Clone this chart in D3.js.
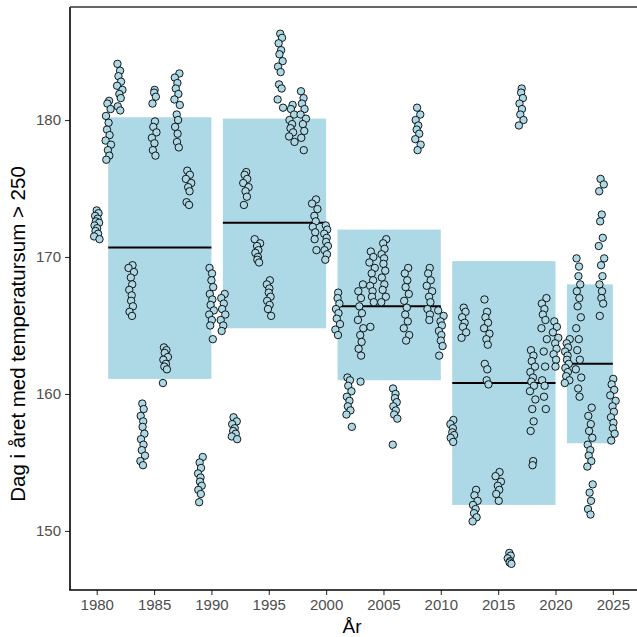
<!DOCTYPE html>
<html>
<head>
<meta charset="utf-8">
<script src="https://cdn.jsdelivr.net/npm/d3@7/dist/d3.min.js"></script>
<style>
body { margin: 0; background: #fff; }
text { font-family: "Liberation Sans", Arial, Helvetica, sans-serif; }
</style>
</head>
<body>
<svg id="chart" width="637" height="637"></svg>
<script>

// one row of values per year
var years = [1980, 1981, 1982, 1983, 1984, 1985, 1986, 1987, 1988, 1989,
    1990, 1991, 1992, 1993, 1994, 1995, 1996, 1997, 1998, 1999,
    2000, 2001, 2002, 2003, 2004, 2005, 2006, 2007, 2008, 2009,
    2010, 2011, 2012, 2013, 2014, 2015, 2016, 2017, 2018, 2019,
    2020, 2021, 2022, 2023, 2024, 2025];

var dayValues = [
    [173.4, 173.2, 173.0, 172.8, 172.6, 172.5, 172.3, 172.1, 171.9, 171.7, 171.5, 171.3],
    [181.4, 181.2, 180.8, 180.3, 179.8, 179.3, 178.9, 178.5, 178.2, 177.8, 177.4, 177.1],
    [184.1, 183.6, 183.2, 182.8, 182.5, 182.2, 181.9, 181.6, 181.0, 180.7],
    [169.4, 169.2, 168.9, 168.5, 168.0, 167.6, 167.2, 166.8, 166.4, 166.0, 165.7],
    [159.3, 158.9, 158.4, 158.0, 157.6, 157.1, 156.7, 156.3, 155.9, 155.5, 155.1, 154.8],
    [182.2, 182.0, 181.7, 181.2, 179.9, 179.5, 179.1, 178.7, 178.3, 177.8, 177.4],
    [163.4, 163.2, 163.0, 162.7, 162.5, 162.2, 162.0, 161.8, 160.8],
    [183.4, 183.1, 182.7, 182.3, 181.9, 181.5, 181.1, 180.4, 180.0, 179.5, 179.0, 178.4, 178.0],
    [176.3, 176.0, 175.7, 175.4, 175.1, 174.8, 174.0, 173.8],
    [155.4, 155.0, 154.6, 154.2, 153.9, 153.6, 153.3, 153.0, 152.7, 152.1],
    [169.2, 168.8, 168.3, 167.8, 167.3, 166.9, 166.5, 166.1, 165.8, 165.4, 165.0, 164.0],
    [167.3, 167.0, 166.6, 166.2, 165.8, 165.4, 165.0, 164.6],
    [158.3, 158.0, 157.8, 157.5, 157.3, 157.1, 156.9, 156.7],
    [176.2, 176.0, 175.7, 175.4, 175.1, 174.8, 174.4, 173.8],
    [171.3, 171.0, 170.8, 170.5, 170.3, 170.0, 169.8, 169.6],
    [168.3, 168.0, 167.7, 167.4, 167.1, 166.8, 166.5, 166.2, 165.7],
    [186.3, 186.0, 185.6, 185.1, 184.8, 184.3, 183.9, 183.5, 182.6, 182.3, 181.5, 180.9],
    [181.1, 180.8, 180.4, 180.0, 179.7, 179.4, 179.1, 178.8, 178.4],
    [182.1, 181.6, 181.2, 180.8, 180.4, 180.1, 179.7, 179.2, 178.7, 177.8],
    [174.2, 173.9, 173.5, 173.0, 172.6, 172.2, 171.8, 171.3, 170.5],
    [172.3, 172.0, 171.7, 171.4, 171.1, 170.8, 170.5, 170.2, 169.8],
    [167.4, 167.0, 166.6, 166.2, 165.9, 165.5, 165.1, 164.7, 164.3],
    [161.2, 161.0, 160.6, 160.2, 159.8, 159.5, 159.1, 158.8, 158.5, 157.6],
    [168.0, 167.5, 167.0, 166.4, 165.9, 165.4, 164.8, 164.3, 163.8, 163.3, 162.8, 160.9],
    [170.4, 170.0, 169.6, 169.2, 168.8, 168.3, 167.9, 167.5, 167.1, 166.7, 164.9],
    [171.3, 171.0, 170.6, 170.2, 169.9, 169.5, 169.0, 168.5, 168.0, 167.6, 167.1, 166.7],
    [160.4, 160.0, 159.7, 159.4, 159.1, 158.8, 158.5, 158.2, 156.3],
    [169.2, 168.8, 168.3, 167.8, 167.3, 166.8, 166.3, 165.8, 165.3, 164.8, 164.3, 163.9],
    [180.9, 180.4, 180.0, 179.6, 179.3, 179.0, 178.6, 178.2, 177.8],
    [169.2, 168.8, 168.3, 167.9, 167.5, 167.1, 166.7, 166.2, 165.8, 165.4],
    [166.1, 165.7, 165.3, 165.0, 164.6, 164.3, 163.9, 163.5, 162.8],
    [158.1, 157.8, 157.5, 157.2, 157.0, 156.8, 156.5],
    [166.3, 166.0, 165.6, 165.2, 164.9, 164.5, 164.1],
    [153.0, 152.6, 152.2, 151.9, 151.6, 151.3, 151.0, 150.7],
    [166.9, 166.0, 165.6, 165.2, 164.8, 164.4, 164.0, 163.6, 162.2, 161.8, 161.0, 160.7],
    [154.3, 154.0, 153.6, 153.3, 153.0, 152.7, 152.2],
    [148.4, 148.2, 148.0, 147.8, 147.7, 147.6],
    [182.3, 182.0, 181.6, 181.2, 180.8, 180.4, 180.0, 179.6],
    [163.2, 162.8, 162.4, 162.0, 161.6, 161.2, 160.9, 160.6, 160.2, 159.6, 158.9, 158.0, 157.3, 155.1, 154.8],
    [167.0, 166.6, 166.2, 165.8, 165.4, 164.8, 164.0, 163.1, 162.0, 161.0, 160.6, 159.8, 158.9],
    [165.3, 164.9, 164.5, 164.1, 163.7, 163.3, 162.9, 162.5, 162.0],
    [164.0, 163.7, 163.4, 163.1, 162.8, 162.5, 162.2, 161.9, 161.6, 161.3, 161.0, 160.8],
    [169.9, 169.3, 168.6, 168.0, 167.5, 167.0, 166.4, 165.6, 164.8, 164.0, 163.2, 162.5, 161.8, 161.2, 160.4, 159.8],
    [159.0, 158.4, 157.8, 157.3, 156.8, 156.3, 155.9, 155.5, 155.1, 154.7, 153.4, 152.8, 152.2, 151.6, 151.2],
    [175.7, 175.3, 174.8, 173.1, 172.6, 171.4, 170.8, 169.9, 169.4, 168.6, 168.0, 167.5, 167.0, 166.6, 165.7],
    [161.1, 160.7, 160.3, 159.9, 159.5, 159.1, 158.7, 158.3, 157.9, 157.5, 157.1, 156.6]
];

// decade boxes: mean and band
var decadeStart = [1981, 1991, 2001, 2011, 2021];
var decadeEnd = [1990, 2000, 2010, 2020, 2025];
var decadeMean = [170.7, 172.5, 166.4, 160.8, 162.2];
var decadeLow = [161.1, 164.8, 161.0, 151.9, 156.4];
var decadeHigh = [180.2, 180.1, 172.0, 169.7, 168.0];

var xTicks = [1980, 1985, 1990, 1995, 2000, 2005, 2010, 2015, 2020, 2025];
var yTicks = [150, 160, 170, 180];

var xLabel = "År";
var yLabel = "Dag i året med temperatursum > 250";


var svg = d3.select("#chart");

var plotLeft = 70, plotRight = 639, plotTop = 7, plotBottom = 590;

var x = d3.scaleLinear().domain([1977.67, 2027.28]).range([plotLeft, plotRight]);
var y = d3.scaleLinear().domain([145.69, 188.25]).range([plotBottom, plotTop]);

// small fixed sideways spread so the dots in one year don't sit on top of each other
var spread = [0, 1.8, -1.6, 0.9, -0.8, 2.4, -2.2, 0.4, -1.2, 1.4, -2.6, 2.8, -0.3, 1.1, -1.9, 0.6];

// boxes
var boxes = decadeStart.map(function(s, i) {
    return {start: s, end: decadeEnd[i], mean: decadeMean[i], low: decadeLow[i], high: decadeHigh[i]};
});

svg.append("g").selectAll("rect")
    .data(boxes)
    .enter().append("rect")
    .attr("x", d => x(d.start))
    .attr("width", d => x(d.end) - x(d.start))
    .attr("y", d => y(d.high))
    .attr("height", d => y(d.low) - y(d.high))
    .attr("fill", "#ADD8E6");

svg.append("g").selectAll("line")
    .data(boxes)
    .enter().append("line")
    .attr("x1", d => x(d.start))
    .attr("x2", d => x(d.end))
    .attr("y1", d => y(d.mean))
    .attr("y2", d => y(d.mean))
    .attr("stroke", "black")
    .attr("stroke-width", 2);

// points
var points = [];
years.forEach(function(yr, i) {
    dayValues[i].forEach(function(v, j) {
        points.push({year: yr, value: v, dx: spread[(j + i * 3) % spread.length]});
    });
});

svg.append("g").selectAll("circle")
    .data(points)
    .enter().append("circle")
    .attr("cx", d => x(d.year) + d.dx)
    .attr("cy", d => y(d.value))
    .attr("r", 3.7)
    .attr("fill", "#ADD8E6")
    .attr("stroke", "black")
    .attr("stroke-width", 0.9);

// axes
var xAxis = svg.append("g")
    .attr("transform", "translate(0," + plotBottom + ")")
    .call(d3.axisBottom(x).tickValues(xTicks).tickFormat(d3.format("d")).tickSize(5).tickPadding(4));

var yAxis = svg.append("g")
    .attr("transform", "translate(" + plotLeft + ",0)")
    .call(d3.axisLeft(y).tickValues(yTicks).tickSize(5).tickPadding(4));

[xAxis, yAxis].forEach(function(g) {
    g.select(".domain").remove();
    g.selectAll(".tick line").attr("stroke", "#333").attr("stroke-width", 1.1);
    g.selectAll(".tick text").attr("fill", "#4D4D4D").style("font-size", "15px");
});

// frame: left + bottom axis lines, thin line on top
svg.append("line")
    .attr("x1", plotLeft).attr("x2", plotLeft)
    .attr("y1", plotTop).attr("y2", plotBottom)
    .attr("stroke", "black").attr("stroke-width", 1.6);
svg.append("line")
    .attr("x1", plotLeft - 0.8).attr("x2", 637)
    .attr("y1", plotBottom).attr("y2", plotBottom)
    .attr("stroke", "black").attr("stroke-width", 1.6);
svg.append("line")
    .attr("x1", plotLeft).attr("x2", 637)
    .attr("y1", plotTop).attr("y2", plotTop)
    .attr("stroke", "#333").attr("stroke-width", 1.3);

// titles
svg.append("text")
    .attr("x", 352)
    .attr("y", 633)
    .attr("text-anchor", "middle")
    .style("font-size", "19px")
    .text(xLabel);

svg.append("text")
    .attr("transform", "translate(25,334) rotate(-90)")
    .attr("text-anchor", "middle")
    .style("font-size", "20.5px")
    .text(yLabel);

</script>
</body>
</html>
